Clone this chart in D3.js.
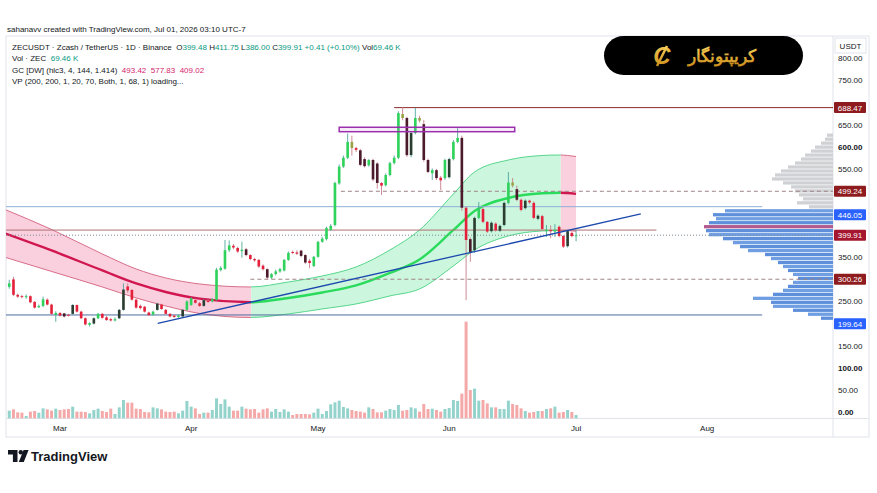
<!DOCTYPE html>
<html>
<head>
<meta charset="utf-8">
<style>
  body { margin: 0; background: #ffffff; }
  svg { display: block; }
  text { font-family: "Liberation Sans", Arial, sans-serif; }
</style>
</head>
<body>
<svg id="chart"></svg>
<script src="https://cdnjs.cloudflare.com/ajax/libs/d3/7.8.5/d3.min.js"></script>
<script>
// ZECUSDT 1D (Binance), one candle per day starting Feb 17 2026
const firstDay = "2026-02-17";

const opens = [
  283,300,265,262,260,262,249,237,240,254,
  243,220,224,223,220,222,242,227,212,197,
  200,212,222,214,210,207,212,231,284,276,
  254,240,238,225,220,231,243,231,222,218,
  215,216,231,242,253,246,240,252,250,254,
  321,324,366,376,371,364,368,355,346,344,
  331,323,304,312,318,320,344,362,361,365,
  355,342,330,351,385,391,412,423,517,555,
  575,611,597,592,572,558,570,562,518,513,
  536,563,575,674,665,581,631,665,651,570,
  540,547,530,529,531,572,611,620,462,391,
  366,439,459,430,409,426,410,423,473,519,
  504,480,461,478,473,437,443,409,411,408,
  419,398,375,405,399.48
];
const highs = [
  299,306,268,265,266,264,251,243,261,257,
  245,228,226,224,222,244,243,229,214,203,
  214,224,224,217,213,214,233,291,291,278,
  256,243,240,227,229,247,245,233,224,220,
  220,233,253,260,257,249,256,255,258,326,
  330,389,388,380,374,385,371,357,349,346,
  334,325,314,322,326,346,363,365,366,367,
  357,346,353,387,396,419,425,521,560,580,
  630,625,600,595,576,572,573,565,520,540,
  566,580,680,690,668,635,688,670,660,573,
  551,550,534,573,575,615,642,625,465,395,
  442,475,462,432,431,429,424,476,543,529,
  512,483,481,480,476,447,446,423,422,425,
  422,400,411,408,411.75
];
const lows = [
  279,262,258,257,256,246,234,235,237,241,
  219,204,216,214,216,220,225,210,196,193,
  198,210,211,206,205,205,210,229,270,252,
  234,232,225,217,218,229,231,220,214,213,
  213,214,229,240,245,238,238,247,248,252,
  318,322,362,368,360,349,352,343,340,326,
  320,300,301,309,315,318,342,357,355,350,
  335,325,328,349,383,388,410,420,514,552,
  572,580,588,556,553,555,522,505,491,510,
  533,560,572,660,577,576,628,655,566,540,
  525,525,502,525,528,569,608,455,253,340,
  360,436,427,405,406,408,407,420,470,508,
  477,454,458,471,436,434,411,396,393,396,
  395,371,372,395,386
];
const closes = [
  291,265,261,260,262,248,236,240,255,243,
  222,224,218,216,218,242,227,212,198,201,
  212,222,213,208,207,210,231,277,275,254,
  236,235,227,219,227,245,233,222,216,215,
  218,231,250,257,247,240,253,249,255,322,
  326,366,377,372,363,367,355,346,343,329,
  323,304,312,318,323,344,360,360,358,353,
  338,337,351,385,392,416,421,518,555,575,
  611,597,593,559,556,570,526,518,512,536,
  563,575,676,665,581,631,665,659,570,543,
  547,529,524,570,572,611,620,462,389,362,
  439,459,430,408,428,411,421,473,519,512,
  480,457,478,474,439,444,414,412,409,412,
  398,374,409,398,399.91
];
// bar colouring from the chart: G green, D dark up, R red, M dark down, O olive down
const tones = [
  "G","R","R","R","G","R","R","G","G","R",
  "R","G","R","M","R","D","R","R","R","G",
  "D","G","R","R","R","G","D","D","R","R",
  "R","R","R","R","G","D","R","R","R","R",
  "G","D","G","G","R","R","D","R","G","G",
  "G","G","G","R","R","G","M","R","R","R",
  "R","M","G","G","G","G","G","R","R","M",
  "M","R","G","G","G","G","G","G","G","G",
  "G","O","R","M","M","G","M","M","R","G",
  "G","G","G","O","M","D","G","O","M","M",
  "G","M","R","G","D","G","G","M","R","M",
  "D","G","R","R","D","R","D","D","G","O",
  "M","R","D","R","R","D","R","G","R","G",
  "R","R","D","R","G"
];
// volume, thousands of ZEC
const volumes = [
  157,183,123,117,50,137,150,117,203,183,
  157,197,170,183,190,237,137,137,130,103,
  170,197,150,130,197,90,223,370,317,317,
  197,190,130,123,223,203,183,137,130,137,
  103,157,350,237,203,90,117,117,170,403,
  290,383,237,157,157,237,197,183,190,117,
  183,203,137,190,130,183,137,70,90,90,
  90,83,117,197,90,150,283,323,357,230,
  203,170,150,137,117,223,190,123,123,157,
  190,170,270,157,170,223,203,137,290,190,
  197,170,137,190,210,370,350,497,1937,570,
  597,357,370,303,223,223,190,190,357,290,
  270,203,150,117,130,150,150,190,203,237,
  117,130,170,130,69.46
];

// Gaussian channel, sampled at candle indices
const gcIdx    = [-1, 10, 22, 30, 37, 45, 57, 66, 74, 82, 90, 97, 105, 110, 118, 126, 130, 134];
const gcUpper  = [458, 412.9, 357.5, 323.5, 303.2, 289.6, 282.8, 294.1, 307.7, 328.1, 366.5, 411.7, 493.1, 542.9, 570, 580.2, 581.3, 577.83];
const gcMiddle = [404, 365.4, 320.2, 290.7, 271.5, 256.3, 248.2, 257.9, 270.4, 286.2, 314.5, 345, 411.7, 454.7, 484.1, 494.7, 495.8, 493.42];
const gcLower  = [350, 317.9, 282.8, 258, 239.8, 222.9, 213.8, 221.8, 233.1, 244.4, 262.5, 278.3, 330.3, 366.5, 398.2, 409.5, 410.6, 409.02];
const gcTurnUp = 57.2, gcTurnDown = 130.4;

// volume profile rows (price centre, relative volume)
const vpPrice = [626,617,608,599,590,581,572,563,554,545,536,527,518,509,500,491,482,473,464,455,
                 446,437,428,419,410,401,392,383,374,365,356,347,338,329,320,311,302,293,284,275,
                 266,257,248,239,230,221,212];
const vpVolume = [6,8,12,18,22,28,32,38,45,52,58,61,50,42,38,34,30,36,24,108,
                  120,117,124,129,127,124,110,100,93,85,68,62,55,50,45,40,35,40,45,50,
                  60,80,62,60,40,25,12];
const vpValueTop = 455;

// drawings
const trendLine = [[35.1, 200.7], [149.3, 447.9]];
const topLevel = {price: 688.47, from: 91};
const zoneBox = {from: 78, to: 119.5, top: 644, bottom: 634};
const dashedLevels = [{price: 499.24, from: 78.4}, {price: 300.26, from: 57}];
const brownLevel = {price: 411.5, to: 153};
const blueLevels = [{price: 464.4, to: 178}, {price: 219.5, to: 178}];
const lastPrice = 399.91;
const axisTags = [
  {price: 688.47, text: "688.47", kind: "level"},
  {price: 499.24, text: "499.24", kind: "level"},
  {price: 446.05, text: "446.05", kind: "blue"},
  {price: 399.91, text: "399.91", kind: "last"},
  {price: 300.26, text: "300.26", kind: "level"},
  {price: 199.64, text: "199.64", kind: "blue"}
];
const boldTicks = [600, 100, 0];

// ---------------------------------------------------------------
const W = 877, H = 493;
const plot = {left: 6, top: 36, right: 833, bottom: 418.5};
const svg = d3.select("#chart").attr("width", W).attr("height", H);

const day0 = new Date(firstDay + "T00:00:00Z");
const at = i => new Date(+day0 + i * 864e5);
const x = d3.scaleUtc()
  .domain([new Date(Date.UTC(2026, 1, 16, 5, 37)), new Date(Date.UTC(2026, 7, 30, 17, 46))])
  .range([plot.left, plot.right]);
const y = d3.scaleLinear().domain([0, 800]).range([412, 58.3]);
const vy = d3.scaleLinear().domain([0, 2000]).range([plot.bottom, plot.bottom - 100]);
const xi = i => x(at(i));

const defs = svg.append("defs");
function clip(id, x0, x1) {
  defs.append("clipPath").attr("id", id).append("rect")
    .attr("x", x0).attr("y", plot.top).attr("width", x1 - x0).attr("height", plot.bottom - plot.top);
}
clip("plotClip", plot.left, plot.right);
clip("pinkA", plot.left, xi(gcTurnUp));
clip("greenB", xi(gcTurnUp), xi(gcTurnDown));
clip("pinkC", xi(gcTurnDown), xi(134.45));

const grad = defs.append("linearGradient").attr("id", "gold").attr("x1", 0).attr("y1", 0).attr("x2", 0).attr("y2", 1);
grad.append("stop").attr("offset", "0%").attr("stop-color", "#f7d25a");
grad.append("stop").attr("offset", "100%").attr("stop-color", "#c98b1a");

svg.append("rect").attr("width", W).attr("height", H).attr("fill", "#ffffff");

// frame
svg.append("rect").attr("x", plot.left).attr("y", plot.top).attr("width", 869 - plot.left).attr("height", 437 - plot.top)
  .attr("fill", "none").attr("stroke", "#e0e3eb");
svg.append("line").attr("x1", plot.right).attr("x2", plot.right).attr("y1", plot.top).attr("y2", 437).attr("stroke", "#e0e3eb");
svg.append("line").attr("x1", plot.left).attr("x2", 869).attr("y1", plot.bottom).attr("y2", plot.bottom).attr("stroke", "#e0e3eb");

const g = svg.append("g").attr("clip-path", "url(#plotClip)");

// Gaussian channel
const gc = gcIdx.map((k, j) => ({i: k, up: gcUpper[j], mid: gcMiddle[j], lo: gcLower[j]}));
const band = d3.area().curve(d3.curveMonotoneX).x(d => xi(d.i)).y0(d => y(d.lo)).y1(d => y(d.up));
const lineOf = key => d3.line().curve(d3.curveMonotoneX).x(d => xi(d.i)).y(d => y(d[key]));
[["pinkA", "pink"], ["greenB", "green"], ["pinkC", "pink"]].forEach(([id, kind]) => {
  const gg = g.append("g").attr("clip-path", `url(#${id})`);
  const pink = kind === "pink";
  gg.append("path").datum(gc).attr("d", band).attr("fill", pink ? "#fbd0de" : "#cdf6df");
  ["up", "lo"].forEach(k => gg.append("path").datum(gc).attr("d", lineOf(k)).attr("fill", "none")
    .attr("stroke", pink ? "#d2607e" : "#45d17f").attr("stroke-width", 0.9));
  gg.append("path").datum(gc).attr("d", lineOf("mid")).attr("fill", "none")
    .attr("stroke", pink ? "#d0174f" : "#2bdb5c").attr("stroke-width", 2.4);
});

// volume profile
const vpw = d3.scaleLinear().domain([0, d3.max(vpVolume)]).range([0, 129]);
const vpMax = d3.max(vpVolume);
vpPrice.forEach((p, j) => {
  const h = y(p - 4.5) - y(p + 4.5);
  const w = vpw(vpVolume[j]);
  let col = p > vpValueTop ? "#cfd1d5" : (j % 2 ? "#6f9fe2" : "#5d8fdb");
  if (vpVolume[j] === vpMax) col = "#b25a8e";
  g.append("rect").attr("x", plot.right - w).attr("y", y(p + 4.5) + 0.3)
    .attr("width", w).attr("height", h - 0.7).attr("fill", col);
});

// horizontal drawings
blueLevels.forEach((l, j) => g.append("line")
  .attr("x1", plot.left).attr("x2", xi(l.to)).attr("y1", y(l.price)).attr("y2", y(l.price))
  .attr("stroke", j === 0 ? "#8fb0d6" : "#4e6d9e").attr("stroke-width", 1));
g.append("line").attr("x1", plot.left).attr("x2", xi(brownLevel.to))
  .attr("y1", y(brownLevel.price)).attr("y2", y(brownLevel.price))
  .attr("stroke", "#b07074").attr("stroke-width", 1);
dashedLevels.forEach(l => g.append("line")
  .attr("x1", xi(l.from)).attr("x2", plot.right).attr("y1", y(l.price)).attr("y2", y(l.price))
  .attr("stroke", "#9e8486").attr("stroke-width", 1).attr("stroke-dasharray", "4,3"));
g.append("line").attr("x1", xi(topLevel.from)).attr("x2", plot.right)
  .attr("y1", y(topLevel.price)).attr("y2", y(topLevel.price))
  .attr("stroke", "#8c2a2a").attr("stroke-width", 1);
g.append("line").attr("x1", plot.left).attr("x2", plot.right)
  .attr("y1", y(lastPrice)).attr("y2", y(lastPrice))
  .attr("stroke", "#7d8a96").attr("stroke-width", 1).attr("stroke-dasharray", "1,2");

// volume bars
const bw = (xi(1) - xi(0)) * 0.7;
g.selectAll("rect.vol").data(volumes).join("rect").attr("class", "vol")
  .attr("x", (v, i) => xi(i) - bw / 2).attr("width", bw)
  .attr("y", v => vy(v)).attr("height", v => plot.bottom - vy(v))
  .attr("fill", (v, i) => closes[i] >= opens[i] ? "#93d3cb" : "#f4a8a8");

// candles
const toneFill = {G: "#2fd25a", D: "#2b3d30", R: "#e4203a", M: "#4b1a2b", O: "#9aa446"};
const cw = (xi(1) - xi(0)) * 0.62;
const candles = g.append("g");
opens.forEach((o, i) => {
  const up = closes[i] >= o;
  const cx = xi(i);
  candles.append("line").attr("x1", cx).attr("x2", cx).attr("y1", y(highs[i])).attr("y2", y(lows[i]))
    .attr("stroke", up ? "#4ea79c" : "#c77d89").attr("stroke-width", 0.9);
  const top = y(Math.max(o, closes[i])), bot = y(Math.min(o, closes[i]));
  candles.append("rect").attr("x", cx - cw / 2).attr("y", top).attr("width", cw)
    .attr("height", Math.max(1, bot - top)).attr("fill", toneFill[tones[i]]);
});

// trend line and zone
g.append("line")
  .attr("x1", xi(trendLine[0][0])).attr("y1", y(trendLine[0][1]))
  .attr("x2", xi(trendLine[1][0])).attr("y2", y(trendLine[1][1]))
  .attr("stroke", "#1b49ad").attr("stroke-width", 1.3);
g.append("rect").attr("x", xi(zoneBox.from)).attr("y", y(zoneBox.top))
  .attr("width", xi(zoneBox.to) - xi(zoneBox.from)).attr("height", y(zoneBox.bottom) - y(zoneBox.top))
  .attr("fill", "rgba(190,110,205,0.12)").attr("stroke", "#9c2fae").attr("stroke-width", 1.5);

// price axis (ticks hidden where a tag sits on top of them)
const ax = svg.append("g");
d3.range(0, 801, 50)
  .filter(p => axisTags.every(t => Math.abs(y(p) - y(t.price)) > 10))
  .forEach(p => {
    ax.append("text").attr("x", 838).attr("y", y(p) + 3).attr("font-size", 8)
      .attr("font-weight", boldTicks.includes(p) ? 700 : 400).attr("fill", "#131722")
      .text(d3.format(".2f")(p));
  });
const tagColor = {level: "#8e1c1f", blue: "#2962ff", last: "#a5172f"};
axisTags.forEach(t => {
  ax.append("rect").attr("x", 834).attr("y", y(t.price) - 5.5).attr("width", 32).attr("height", 11)
    .attr("rx", 1).attr("fill", tagColor[t.kind]);
  ax.append("text").attr("x", 850).attr("y", y(t.price) + 3).attr("text-anchor", "middle")
    .attr("font-size", 8).attr("fill", "#ffffff").text(t.text);
});
ax.append("rect").attr("x", 835).attr("y", 38).attr("width", 31).attr("height", 15)
  .attr("fill", "#ffffff").attr("stroke", "#e0e3eb");
ax.append("text").attr("x", 850.5).attr("y", 48.5).attr("text-anchor", "middle")
  .attr("font-size", 8).attr("fill", "#131722").text("USDT");

// time axis
x.ticks(d3.utcMonth.every(1)).forEach(d => {
  svg.append("text").attr("x", x(d)).attr("y", 431).attr("text-anchor", "middle")
    .attr("font-size", 8).attr("fill", "#131722").text(d3.utcFormat("%b")(d));
});

// legend
const dark = "#131722", teal = "#089981", rose = "#d6246e";
function legendLine(yy, parts) {
  const t = svg.append("text").attr("x", 12).attr("y", yy).attr("font-size", 8).attr("xml:space", "preserve");
  parts.forEach(([s, c]) => t.append("tspan").attr("fill", c).text(s));
}
svg.append("text").attr("x", 7).attr("y", 32).attr("font-size", 8).attr("fill", dark)
  .text("sahanavv created with TradingView.com, Jul 01, 2026 03:10 UTC-7");
legendLine(49.5, [["ZECUSDT · Zcash / TetherUS · 1D · Binance  ", dark], ["O", dark], ["399.48", teal],
  [" H", dark], ["411.75", teal], [" L", dark], ["386.00", teal], [" C", dark], ["399.91", teal],
  [" +0.41 (+0.10%)", teal], [" Vol", dark], ["69.46 K", teal]]);
legendLine(61, [["Vol · ZEC  ", dark], ["69.46 K", teal]]);
legendLine(72.5, [["GC [DW] (hlc3, 4, 144, 1.414)  ", dark], ["493.42  ", rose], ["577.83  ", rose], ["409.02", rose]]);
legendLine(84, [["VP (200, 200, 1, 20, 70, Both, 1, 68, 1) loading...", dark]]);

// brand badge
const badge = svg.append("g");
badge.append("rect").attr("x", 604).attr("y", 36).attr("width", 199).attr("height", 39).attr("rx", 19.5).attr("fill", "#000000");
badge.append("text").attr("x", 662).attr("y", 64).attr("text-anchor", "middle")
  .attr("font-family", "Liberation Serif").attr("font-style", "italic").attr("font-weight", 700)
  .attr("font-size", 24).attr("fill", "url(#gold)").text("C");
badge.append("line").attr("x1", 657).attr("y1", 66).attr("x2", 667).attr("y2", 46)
  .attr("stroke", "url(#gold)").attr("stroke-width", 2.5);
badge.append("text").attr("x", 722).attr("y", 62).attr("text-anchor", "middle")
  .attr("font-family", "DejaVu Sans").attr("font-weight", 700).attr("font-size", 17)
  .attr("fill", "url(#gold)").text("کریپتونگار");

// TradingView mark
const tv = svg.append("g").attr("fill", "#131722");
tv.append("path").attr("d", "M8,450 h9.5 v12 h-4.6 v-7.6 h-4.9 z");
tv.append("circle").attr("cx", 20.8).attr("cy", 452.3).attr("r", 2.2);
tv.append("path").attr("d", "M23.6,450 h5 l-4.8,12 h-5 z");
svg.append("text").attr("x", 31).attr("y", 461).attr("font-size", 13).attr("font-weight", 600)
  .attr("fill", "#131722").text("TradingView");
</script>
</body>
</html>
